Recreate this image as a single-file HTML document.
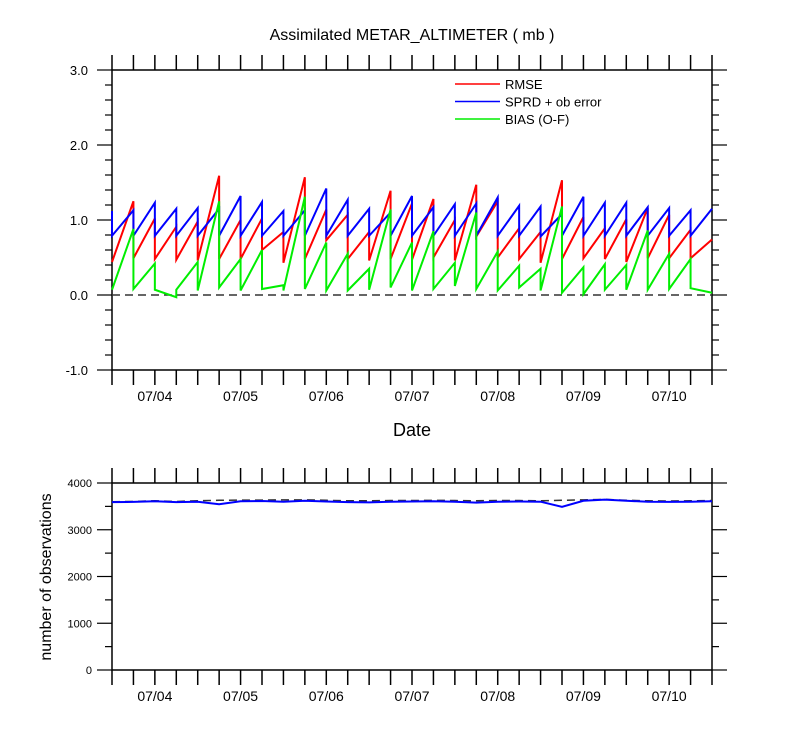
<!DOCTYPE html>
<html><head><meta charset="utf-8"><style>
body{margin:0;background:#fff;}
svg{font-family:"Liberation Sans",sans-serif;}
</style></head><body>
<svg id="chart" width="800" height="750" viewBox="0 0 800 750"></svg>
<script>
const nT = 29;
const dateLabels = ["07/04","07/05","07/06","07/07","07/08","07/09","07/10"];
const rmsePrior = [0.44,1.25,1.02,0.91,0.98,1.59,1.00,1.02,0.84,1.57,1.14,1.07,0.84,1.39,1.22,1.28,1.00,1.47,1.25,0.89,0.84,1.53,1.04,0.89,1.01,1.16,1.07,0.87,0.74];
const rmsePost  = [0.44,0.49,0.48,0.47,0.46,0.48,0.48,0.60,0.43,0.48,0.73,0.48,0.46,0.48,0.47,0.50,0.46,0.78,0.50,0.48,0.43,0.48,0.49,0.48,0.44,0.49,0.49,0.49,0.74];
const sprdPrior = [1.12,1.13,1.23,1.15,1.16,1.15,1.32,1.24,1.12,1.13,1.42,1.27,1.15,1.10,1.32,1.17,1.21,1.22,1.30,1.19,1.18,1.08,1.31,1.23,1.23,1.17,1.16,1.13,1.15];
const sprdPost  = [0.79,0.79,0.79,0.79,0.79,0.79,0.79,0.79,0.79,0.79,0.79,0.79,0.79,0.79,0.79,0.79,0.79,0.79,0.79,0.79,0.78,0.79,0.79,0.79,0.79,0.79,0.79,0.79,1.15];
const biasPrior = [0.07,0.88,0.42,-0.03,0.44,1.25,0.48,0.60,0.13,1.31,0.70,0.55,0.35,1.14,0.70,0.85,0.43,1.10,0.58,0.39,0.35,1.18,0.37,0.41,0.40,0.86,0.55,0.48,0.03];
const biasPost  = [0.07,0.08,0.07,0.07,0.06,0.10,0.06,0.08,0.06,0.08,0.06,0.06,0.07,0.10,0.06,0.08,0.12,0.08,0.06,0.10,0.06,0.03,0.01,0.07,0.07,0.07,0.08,0.09,0.03];
const obsUsed = [3590,3595,3610,3590,3600,3545,3610,3615,3600,3620,3605,3590,3585,3600,3605,3610,3600,3580,3600,3605,3600,3490,3620,3645,3620,3600,3595,3600,3610];
const obsPossible = [3600,3605,3620,3605,3620,3630,3635,3635,3640,3640,3630,3620,3620,3625,3625,3630,3625,3620,3625,3625,3620,3630,3640,3650,3630,3620,3615,3620,3625];
const yTicksTop = [-1.0,0.0,1.0,2.0,3.0];
const yTicksBot = [0,1000,2000,3000,4000];

const svg = document.getElementById('chart');
const NS = 'http://www.w3.org/2000/svg';
function mk(tag, attrs, name, parent){
  const e = document.createElementNS(NS, tag);
  for (const k in attrs) e.setAttribute(k, attrs[k]);
  
  
  (parent||svg).appendChild(e); return e;
}
const X0 = 112, X1 = 712;
const xs = i => X0 + (X1 - X0) * i / (nT - 1);
const yTop = v => 70 + (3 - v) * 75;
const yBot = v => 670 - v * (187 / 4000);

function frame(top, bot, tag){
  mk('rect',{x:X0,y:top,width:X1-X0,height:bot-top,fill:'none',stroke:'#000','stroke-width':1.5}, tag+'-frame');
  for (let i=0;i<nT;i++){
    const x = xs(i);
    mk('line',{x1:x,x2:x,y1:top-15,y2:top,stroke:'#000','stroke-width':1.5}, tag+'-top-tick');
    mk('line',{x1:x,x2:x,y1:bot,y2:bot+15,stroke:'#000','stroke-width':1.5}, tag+'-bottom-tick');
  }
  dateLabels.forEach((d,k)=>{
    const t = mk('text',{x:xs(2+4*k),y:bot+31,'text-anchor':'middle','font-size':14,fill:'#000'}, tag+'-x-tick-label');
    t.textContent = d;
  });
}
frame(70,370,'top');
for (let v=-1; v<=3.001; v+=0.2){
  const y = yTop(v); const major = Math.abs(v-Math.round(v))<1e-6;
  const len = major?15:7;
  mk('line',{x1:X0-len,x2:X0,y1:y,y2:y,stroke:'#000','stroke-width':1.2}, 'top-y-tick');
  mk('line',{x1:X1,x2:X1+len,y1:y,y2:y,stroke:'#000','stroke-width':1.2}, 'top-y-tick-right');
}
yTicksTop.forEach(v=>{
  const t = mk('text',{x:88,y:yTop(v)+5,'text-anchor':'end','font-size':13}, 'top-y-tick-label');
  t.textContent = v.toFixed(1);
});
mk('line',{x1:X0,x2:X1,y1:yTop(0),y2:yTop(0),stroke:'#333','stroke-width':1.5,'stroke-dasharray':'8,5'}, 'zero-line');
function saw(pr, po, color, name){
  let d = 'M'+xs(0)+','+yTop(pr[0])+' L'+xs(0)+','+yTop(po[0]);
  for (let i=1;i<nT;i++){ d += ' L'+xs(i)+','+yTop(pr[i])+' L'+xs(i)+','+yTop(po[i]); }
  mk('path',{d:d,fill:'none',stroke:color,'stroke-width':2,'stroke-linejoin':'miter'}, name);
}
saw(rmsePrior, rmsePost, '#ff0000', 'rmse-line');
saw(sprdPrior, sprdPost, '#0000ff', 'spread-line');
saw(biasPrior, biasPost, '#00ee00', 'bias-line');
[['RMSE','#ff0000'],['SPRD + ob error','#0000ff'],['BIAS (O-F)','#00ee00']].forEach((l,k)=>{
  const y = 84 + k*17.5;
  mk('line',{x1:455,x2:500,y1:y,y2:y,stroke:l[1],'stroke-width':1.5}, 'legend-swatch');
  const t = mk('text',{x:505,y:y+5,'font-size':13}, 'legend-entry'); t.textContent = l[0];
});
let t = mk('text',{x:412,y:40,'text-anchor':'middle','font-size':16}, 'chart-title'); t.textContent='Assimilated METAR_ALTIMETER ( mb )';
t = mk('text',{x:412,y:436,'text-anchor':'middle','font-size':18}, 'x-axis-title'); t.textContent='Date';
frame(483,670,'bottom');
for (let v=0; v<=4000; v+=500){
  const y = yBot(v); const major = v%1000===0; const len = major?15:7;
  mk('line',{x1:X0-len,x2:X0,y1:y,y2:y,stroke:'#000','stroke-width':1.2}, 'bottom-y-tick');
  mk('line',{x1:X1,x2:X1+len,y1:y,y2:y,stroke:'#000','stroke-width':1.2}, 'bottom-y-tick-right');
}
yTicksBot.forEach(v=>{
  const t2 = mk('text',{x:92,y:yBot(v)+4,'text-anchor':'end','font-size':11}, 'bottom-y-tick-label');
  t2.textContent = String(v);
});
mk('polyline',{points:obsPossible.map((v,i)=>xs(i)+','+yBot(v)).join(' '),fill:'none',stroke:'#333','stroke-width':1.5,'stroke-dasharray':'8,5'}, 'obs-possible-line');
mk('polyline',{points:obsUsed.map((v,i)=>xs(i)+','+yBot(v)).join(' '),fill:'none',stroke:'#0000ff','stroke-width':2}, 'obs-used-line');
t = mk('text',{x:0,y:0,'text-anchor':'middle','font-size':16,transform:'translate(51,577) rotate(-90)'}, 'y-axis-title'); t.textContent='number of observations';
</script>
</body></html>
